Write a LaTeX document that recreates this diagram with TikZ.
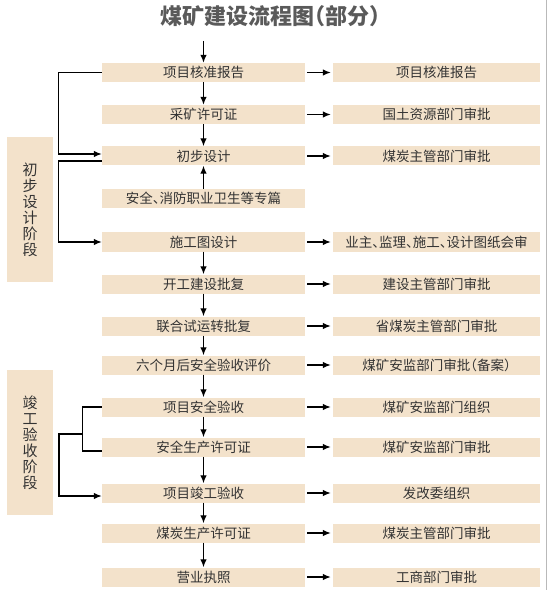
\documentclass[tikz,border=0pt]{standalone}
\usepackage{fontspec}
\setmainfont{Noto Sans CJK SC}
\newfontfamily\cjkhalt[RawFeature=+halt]{Noto Sans CJK SC}
\usetikzlibrary{arrows.meta,calc}
\definecolor{boxfill}{HTML}{F3E2CB}
\definecolor{txt}{HTML}{333333}
\definecolor{ttl}{HTML}{5A5A5A}
\tikzset{
  lbox/.style={fill=boxfill, minimum width=203pt, minimum height=19pt, inner sep=0pt, text=txt, font=\fontsize{13.5}{14}\selectfont},
  rbox/.style={fill=boxfill, minimum width=207pt, minimum height=19pt, inner sep=0pt, text=txt, font=\fontsize{13.5}{14}\selectfont},
  phase/.style={fill=boxfill, minimum width=46pt, minimum height=145pt, inner sep=0pt, text=txt, align=center, font=\fontsize{15}{16}\selectfont},
  arr/.style={line width=1.3pt, -{Latex[length=8pt,width=6.5pt]}},
  conn/.style={line width=1.2pt},
}
\begin{document}
\begin{tikzpicture}[x=1pt,y=-1pt]
\useasboundingbox (0,0) rectangle (550,593);
\draw[gray!55, line width=0.8pt] (546,0) -- (546,590);
\node[text=ttl, font=\fontsize{22}{24}\cjkhalt\bfseries] (title) at (270,16) {煤矿建设流程图（部分）};
% left column
\node[lbox] (b1) at (203.5,72.5) {项目核准报告};
\node[lbox] (b2) at (203.5,114.5) {采矿许可证};
\node[lbox] (b3) at (203.5,156) {初步设计};
\node[lbox, font=\fontsize{13.5}{14}\cjkhalt] (b4) at (203.5,198.5) {安全、消防职业卫生等专篇};
\node[lbox] (b5) at (203.5,242) {施工图设计};
\node[lbox] (b6) at (203.5,284) {开工建设批复};
\node[lbox] (b7) at (203.5,326) {联合试运转批复};
\node[lbox] (b8) at (203.5,365) {六个月后安全验收评价};
\node[lbox] (b9) at (203.5,407) {项目安全验收};
\node[lbox] (b10) at (203.5,447) {安全生产许可证};
\node[lbox] (b11) at (203.5,493) {项目竣工验收};
\node[lbox] (b12) at (203.5,533) {煤炭生产许可证};
\node[lbox] (b13) at (203.5,577) {营业执照};
% right column
\node[rbox] (r1) at (436.5,72.5) {项目核准报告};
\node[rbox] (r2) at (436.5,114.5) {国土资源部门审批};
\node[rbox] (r3) at (436.5,156) {煤炭主管部门审批};
\node[rbox, font=\fontsize{13.5}{14}\cjkhalt] (r5) at (436.5,242) {业主、监理、施工、设计图纸会审};
\node[rbox] (r6) at (436.5,284) {建设主管部门审批};
\node[rbox] (r7) at (436.5,326) {省煤炭主管部门审批};
\node[rbox, font=\fontsize{13.5}{14}\cjkhalt] (r8) at (436.5,365) {煤矿安监部门审批（备案）};
\node[rbox] (r9) at (436.5,407) {煤矿安监部门组织};
\node[rbox] (r10) at (436.5,447) {煤矿安监部门审批};
\node[rbox] (r11) at (436.5,493) {发改委组织};
\node[rbox] (r12) at (436.5,533) {煤炭主管部门审批};
\node[rbox] (r13) at (436.5,577) {工商部门审批};
% phase boxes
\node[phase] (p1) at (30,209.5) {初\\步\\设\\计\\阶\\段};
\node[phase] (p2) at (30,442.5) {竣\\工\\验\\收\\阶\\段};
% top arrow
\coordinate (top) at (203.5,41);
\draw[arr] (top) -- (b1.north);
% vertical arrows
\foreach \a/\b in {b1/b2,b2/b3,b5/b6,b6/b7,b7/b8,b8/b9,b9/b10,b10/b11,b11/b12,b12/b13}
  \draw[arr] (\a.south) -- (\b.north);
\draw[arr] (b4.north) -- (b3.south);
% horizontal arrows
\foreach \n in {1,2,3,5,6,7,8,9,10,11,12,13}
  \draw[arr, shorten <=2pt, shorten >=2pt] (b\n.east) -- (r\n.west);
% left connectors
\draw[arr] (b1.west) -- ++(-43,0) |- ([yshift=2pt]b3.west);
\draw[arr] ([yshift=-5pt]b3.west) -- ++(-43,0) |- (b5.west);
\draw[conn] (b9.west) -- ++(-19,0) |- ([yshift=-4pt]b10.west);
\coordinate (m) at (83,434);
\draw[arr] (m) -- ++(-24,0) |- ([yshift=-3pt]b11.west);
\end{tikzpicture}
\end{document}
